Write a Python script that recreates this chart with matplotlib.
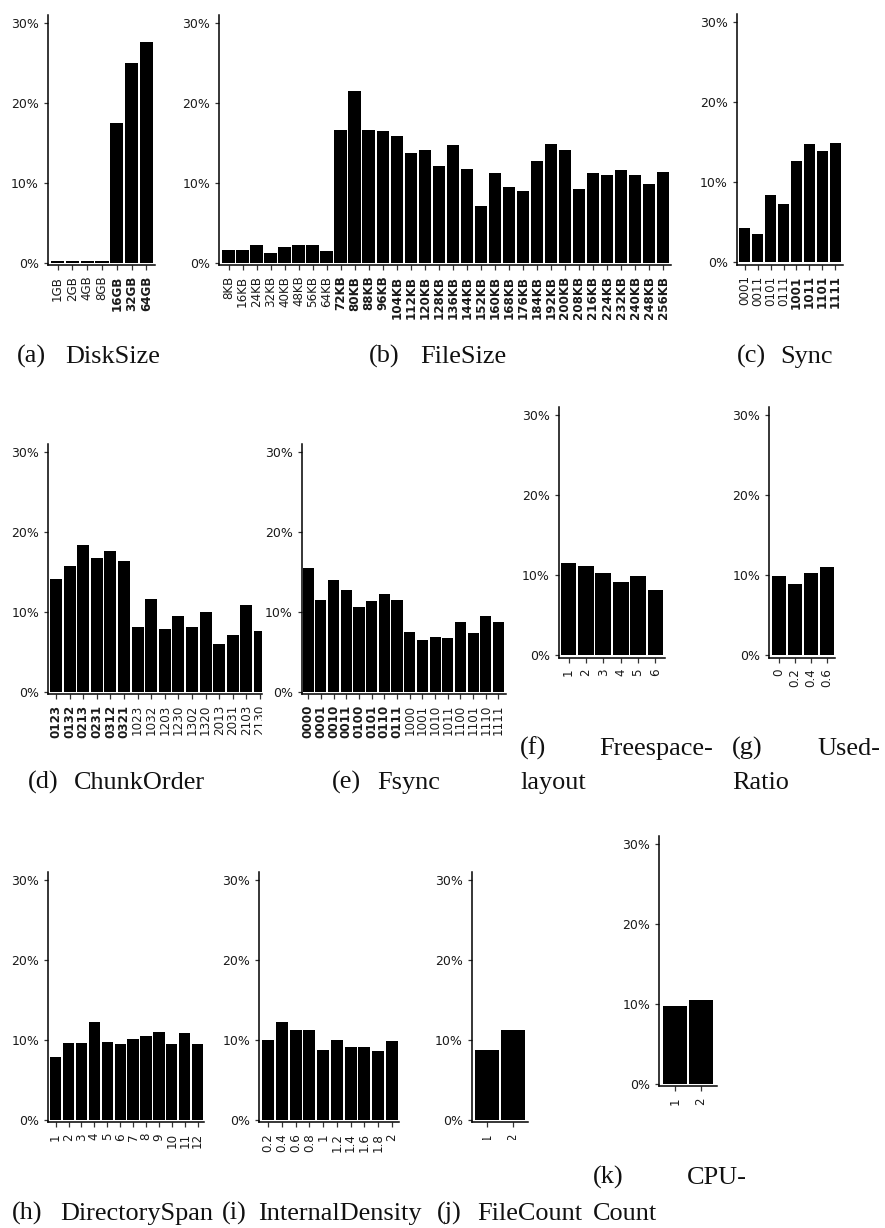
import matplotlib
matplotlib.use("Agg")
import matplotlib.pyplot as plt
from matplotlib.transforms import Bbox, TransformedBbox

# ---------------- data (percent of runs) ----------------
disk_labels = ["1GB", "2GB", "4GB", "8GB", "16GB", "32GB", "64GB"]
disk_values = [0.2, 0.2, 0.2, 0.2, 17.4, 24.9, 27.6]
disk_bold = ["16GB", "32GB", "64GB"]

filesize_labels = ["8KB", "16KB", "24KB", "32KB", "40KB", "48KB", "56KB", "64KB",
                   "72KB", "80KB", "88KB", "96KB", "104KB", "112KB", "120KB", "128KB",
                   "136KB", "144KB", "152KB", "160KB", "168KB", "176KB", "184KB", "192KB",
                   "200KB", "208KB", "216KB", "224KB", "232KB", "240KB", "248KB", "256KB"]
filesize_values = [1.6, 1.6, 2.2, 1.2, 1.95, 2.2, 2.2, 1.45,
                   16.6, 21.5, 16.6, 16.5, 15.8, 13.7, 14.1, 12.1,
                   14.7, 11.7, 7.1, 11.2, 9.5, 9.0, 12.7, 14.8,
                   14.1, 9.2, 11.2, 11.0, 11.6, 11.0, 9.8, 11.3]
filesize_bold = filesize_labels[8:]

sync_labels = ["0001", "0011", "0101", "0111", "1001", "1011", "1101", "1111"]
sync_values = [4.3, 3.55, 8.4, 7.3, 12.7, 14.8, 13.9, 14.9]
sync_bold = ["1001", "1011", "1101", "1111"]

chunk_labels = ["0123", "0132", "0213", "0231", "0312", "0321", "1023", "1032",
                "1203", "1230", "1302", "1320", "2013", "2031", "2103", "2130"]
chunk_values = [14.1, 15.7, 18.3, 16.7, 17.6, 16.3, 8.1, 11.6,
                7.8, 9.5, 8.1, 10.0, 6.0, 7.1, 10.8, 7.6]
chunk_bold = ["0123", "0132", "0213", "0231", "0312", "0321"]

fsync_labels = ["0000", "0001", "0010", "0011", "0100", "0101", "0110", "0111",
                "1000", "1001", "1010", "1011", "1100", "1101", "1110", "1111"]
fsync_values = [15.5, 11.5, 14.0, 12.7, 10.6, 11.3, 12.2, 11.5,
                7.5, 6.5, 6.8, 6.7, 8.7, 7.3, 9.5, 8.7]
fsync_bold = ["0000", "0001", "0010", "0011", "0100", "0101", "0110", "0111"]

freespace_labels = ["1", "2", "3", "4", "5", "6"]
freespace_values = [11.6, 11.2, 10.3, 9.2, 9.9, 8.2]

usedratio_labels = ["0", "0.2", "0.4", "0.6"]
usedratio_values = [9.9, 8.9, 10.3, 11.1]

dirspan_labels = ["1", "2", "3", "4", "5", "6", "7", "8", "9", "10", "11", "12"]
dirspan_values = [7.9, 9.65, 9.65, 12.2, 9.8, 9.5, 10.15, 10.5, 11.0, 9.5, 10.9, 9.5]

density_labels = ["0.2", "0.4", "0.6", "0.8", "1", "1.2", "1.4", "1.6", "1.8", "2"]
density_values = [10.0, 12.2, 11.2, 11.3, 8.8, 10.0, 9.15, 9.15, 8.65, 9.9]

filecount_labels = ["1", "2"]
filecount_values = [8.8, 11.3]

cpucount_labels = ["1", "2"]
cpucount_values = [9.8, 10.45]

y_ticks = [0, 10, 20, 30]
y_ticklabels = ["0%", "10%", "20%", "30%"]

# ---------------- layout ----------------
W, H = 885, 1228
fig = plt.figure(figsize=(W / 100, H / 100), dpi=100)

PX_PER_PCT = 8.0
Y_LO, Y_HI = -0.3, 31.0
GAP = 1.6
TICK_FONT = "DejaVu Sans"
XTICK_SIZE = 8.6
YTICK_SIZE = 9.0
INK = "#1a1a1a"


def panel(labels, values, bold, left, right, bar0, bar1, zero_y, clip_px=None):
    n = len(values)
    unit = (bar1 - bar0 + GAP) / n
    w = 1 - GAP / unit
    x_lo = -w / 2 - (bar0 - left) / unit
    x_hi = n - 1 + w / 2 + (right - bar1) / unit
    top = zero_y - Y_HI * PX_PER_PCT
    bot = zero_y - Y_LO * PX_PER_PCT
    ax = fig.add_axes([left / W, 1 - bot / H, (right - left) / W, (bot - top) / H])
    ax.bar(range(n), values, width=w, color="black", linewidth=0)
    ax.set_xlim(x_lo, x_hi)
    ax.set_ylim(Y_LO, Y_HI)
    for s in ("top", "right"):
        ax.spines[s].set_visible(False)
    for s in ("left", "bottom"):
        ax.spines[s].set_linewidth(1.1)
        ax.spines[s].set_color("black")
    ax.set_yticks(y_ticks)
    ax.set_yticklabels(y_ticklabels, fontsize=YTICK_SIZE, family=TICK_FONT, color=INK)
    ax.set_xticks(range(n))
    ax.set_xticklabels(labels, rotation=90, fontsize=XTICK_SIZE, family=TICK_FONT, color=INK)
    ax.tick_params(axis="x", length=3.6, width=0.9, pad=4.0, color="#333333")
    ax.tick_params(axis="y", length=3.0, width=0.9, pad=3.5, color="#333333")
    for lab in ax.get_xticklabels():
        if lab.get_text() in bold:
            lab.set_fontweight("bold")
    if clip_px is not None:
        x0, y0, x1, y1 = clip_px
        box = TransformedBbox(Bbox.from_extents(x0 / W, 1 - y1 / H, x1 / W, 1 - y0 / H),
                              fig.transFigure)
        for t in ax.xaxis.get_major_ticks():
            t.label1.set_clip_on(True)
            t.label1.set_clip_box(box)
    return ax


panel(disk_labels, disk_values, disk_bold, 48, 155, 51, 153, 262.7)
panel(filesize_labels, filesize_values, filesize_bold, 219.3, 671, 222.3, 669.3, 262.7)
panel(sync_labels, sync_values, sync_bold, 736.7, 842.7, 739, 841, 262.4)
panel(chunk_labels, chunk_values, chunk_bold, 48.3, 262, 50, 266, 691.7,
      clip_px=(0, 0, 262, H))
panel(fsync_labels, fsync_values, fsync_bold, 301.7, 505.7, 302.7, 504, 691.7)
panel(freespace_labels, freespace_values, [], 558.7, 664.7, 560.7, 663.3, 655.3)
panel(usedratio_labels, usedratio_values, [], 769.3, 835, 772, 834, 655.3)
panel(dirspan_labels, dirspan_values, [], 48.3, 204, 50, 203.3, 1120)
panel(density_labels, density_values, [], 259.3, 399.3, 262, 398, 1120)
panel(filecount_labels, filecount_values, [], 471.7, 528.3, 475, 525, 1120,
      clip_px=(0, 0, W, 1140))
panel(cpucount_labels, cpucount_values, [], 659.3, 716.7, 662.7, 713.3, 1084)

# ---------------- sub-captions ----------------
CAP_FONT = "Liberation Serif"
CAP_SIZE = 18.9


def cap(x, y, s, ha="left"):
    fig.text(x / W, 1 - y / H, s, family=CAP_FONT, fontsize=CAP_SIZE,
             ha=ha, va="baseline", color="#111111")


cap(17, 363, "(a)"); cap(65, 363, "DiskSize")
cap(369, 363, "(b)"); cap(420, 363, "FileSize")
cap(737, 363, "(c)"); cap(780, 363, "Sync")

cap(28, 789, "(d)"); cap(74, 789, "ChunkOrder")
cap(332, 789, "(e)"); cap(377, 789, "Fsync")
cap(520, 755, "(f)"); cap(713, 755, "Freespace-", ha="right")
cap(520, 789, "layout")
cap(732, 755, "(g)"); cap(880, 755, "Used-", ha="right")
cap(732, 789, "Ratio")

cap(12, 1220, "(h)"); cap(60, 1220, "DirectorySpan")
cap(222, 1220, "(i)"); cap(258, 1220, "InternalDensity")
cap(437, 1220, "(j)"); cap(477, 1220, "FileCount")
cap(593, 1184, "(k)"); cap(747, 1184, "CPU-", ha="right")
cap(593, 1220, "Count")

fig.savefig("out.png", dpi=100)
